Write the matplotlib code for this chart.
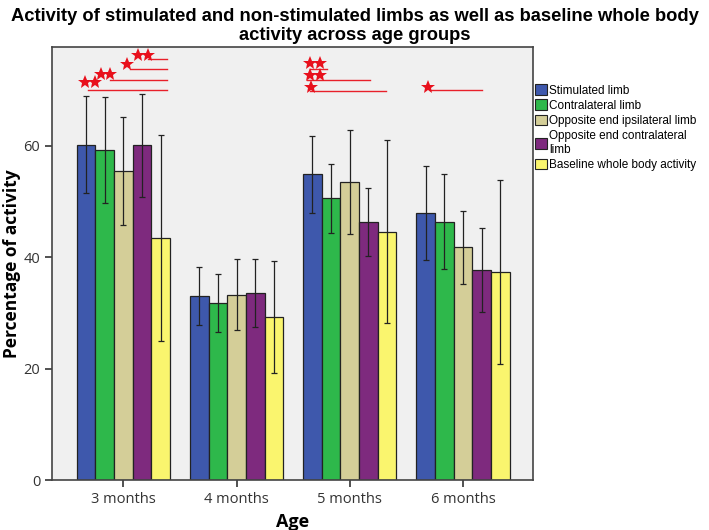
import numpy as np
import matplotlib
matplotlib.use('Agg')
import matplotlib.pyplot as plt
from matplotlib.patches import Patch

ages = ['3 months', '4 months', '5 months', '6 months']
series = ['Stimulated limb', 'Contralateral limb', 'Opposite end ipsilateral limb',
          'Opposite end contralateral\nlimb', 'Baseline whole body activity']
colors = ['#3E58AC', '#2EB84B', '#D4CE98', '#7E2A7E', '#FAF56E']

stimulated = [60.2, 33.0, 54.9, 48.0]
contralateral = [59.3, 31.9, 50.6, 46.4]
opp_ipsilateral = [55.5, 33.3, 53.5, 41.8]
opp_contralateral = [60.1, 33.6, 46.3, 37.7]
baseline = [43.5, 29.3, 44.6, 37.4]

stimulated_err = [8.7, 5.2, 6.9, 8.4]
contralateral_err = [9.5, 5.2, 6.2, 8.5]
opp_ipsilateral_err = [9.6, 6.4, 9.3, 6.6]
opp_contralateral_err = [9.2, 6.1, 6.1, 7.5]
baseline_err = [18.4, 10.0, 16.4, 16.5]

means = [stimulated, contralateral, opp_ipsilateral, opp_contralateral, baseline]
errs = [stimulated_err, contralateral_err, opp_ipsilateral_err, opp_contralateral_err, baseline_err]

# significance lines: (x start, x end, y) and star positions (x, y)
sig_lines = [(-0.31, 0.39, 70.0), (-0.12, 0.39, 71.8), (0.06, 0.39, 73.8), (0.22, 0.39, 75.6),
             (1.65, 1.80, 73.8), (1.62, 2.18, 71.8), (1.65, 2.32, 69.9), (2.71, 3.17, 70.1)]
star_x = [-0.34, -0.25, -0.20, -0.12, 0.03, 0.13, 0.22, 1.65, 1.74, 1.65, 1.74, 1.66, 2.69]
star_y = [71.4, 71.4, 72.8, 72.8, 74.6, 76.3, 76.3, 74.9, 74.9, 72.7, 72.7, 70.6, 70.5]

fig = plt.figure(figsize=(7.09, 5.30), dpi=100)
ax = fig.add_axes([0.0733, 0.0934, 0.6787, 0.8176])
ax.set_facecolor('#F0F0F0')

x = np.arange(len(ages))
w = 0.165
for i in range(len(series)):
    pos = x + (i - 2) * w
    ax.bar(pos, means[i], w, color=colors[i], edgecolor='#222222', linewidth=0.9, zorder=2)
    ax.errorbar(pos, means[i], yerr=errs[i], fmt='none', ecolor='#222222',
                elinewidth=0.9, capsize=2, capthick=0.9, zorder=3)

for x0, x1, y in sig_lines:
    ax.plot([x0, x1], [y, y], color='#E8202A', linewidth=1.0, zorder=4)
ax.plot(star_x, star_y, linestyle='none', marker='*', markersize=10.5,
        color='#E8101C', markeredgewidth=0, zorder=5)

ax.set_xlim(-0.63, 3.62)
ax.set_ylim(0, 77.7)
ax.set_xticks(x)
ax.set_xticklabels(ages, fontsize=10.5, family='Open Sans')
ax.set_yticks([0, 20, 40, 60])
ax.set_yticklabels(['0', '20', '40', '60'], fontsize=10.5, family='Open Sans', color='#333333')
ax.tick_params(direction='out', length=5, width=1.2, colors='#333333')
for s in ax.spines.values():
    s.set_color('#444444')
    s.set_linewidth(1.2)

ax.set_xlabel('Age', fontsize=13, fontweight='bold', family='Open Sans', labelpad=4)
ax.set_ylabel('Percentage of activity', fontsize=12.5, fontweight='bold', family='Open Sans', labelpad=2)

fig.text(0.5, 0.985, 'Activity of stimulated and non-stimulated limbs as well as baseline whole body\n'
         'activity across age groups', ha='center', va='top', fontsize=13.2, fontweight='bold',
         family='Liberation Sans', linespacing=1.15)

handles = [Patch(facecolor=c, edgecolor='#222222', linewidth=0.8) for c in colors]
leg = fig.legend(handles, series, loc='upper left', bbox_to_anchor=(0.748, 0.85),
                 frameon=False, handlelength=1.0, handleheight=1.0,
                 handletextpad=0.2, labelspacing=0.25, borderaxespad=0,
                 prop={'family': 'Liberation Sans', 'size': 8.5})

fig.savefig('out.png', dpi=100)
